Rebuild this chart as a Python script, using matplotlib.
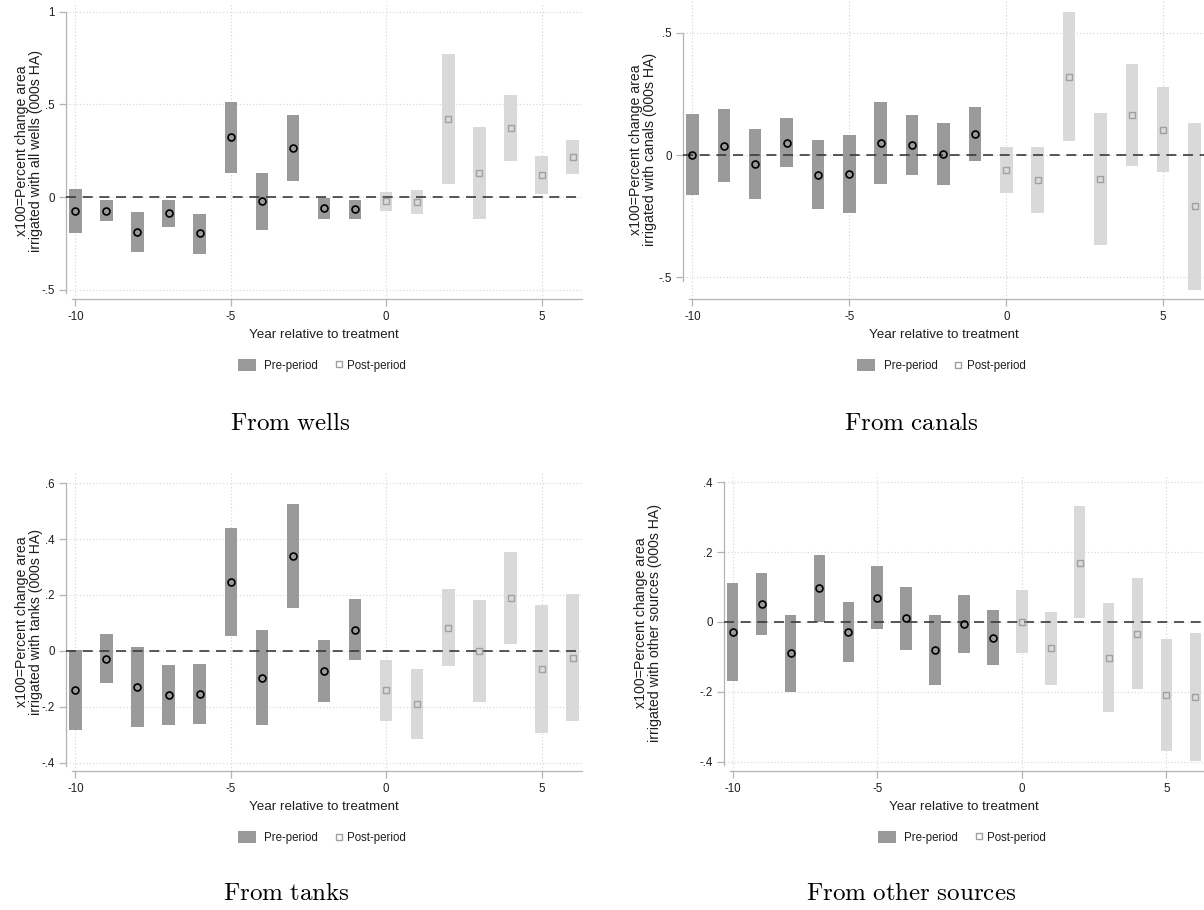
import numpy as np
import matplotlib
matplotlib.use("Agg")
import matplotlib.pyplot as plt
from matplotlib.axes import Axes
from matplotlib.patches import Patch, Rectangle
from matplotlib.lines import Line2D
from matplotlib.legend_handler import HandlerPatch

plt.rcParams['font.family'] = ['Liberation Sans', 'DejaVu Sans']
plt.rcParams['mathtext.fontset'] = 'cm'

W, H = 1204, 910

years = [-10, -9, -8, -7, -6, -5, -4, -3, -2, -1, 0, 1, 2, 3, 4, 5, 6]

# point estimates and 95% CI bounds
wells_coef = [-0.075, -0.073, -0.189, -0.087, -0.196, 0.323, -0.023, 0.267, -0.061, -0.066,
              -0.023, -0.025, 0.421, 0.130, 0.373, 0.118, 0.217]
wells_lo = [-0.196, -0.130, -0.299, -0.164, -0.307, 0.132, -0.176, 0.089, -0.118, -0.118,
            -0.075, -0.089, 0.070, -0.118, 0.196, 0.014, 0.125]
wells_hi = [0.045, -0.014, -0.080, -0.014, -0.089, 0.512, 0.130, 0.442, -0.003, -0.014,
            0.025, 0.037, 0.774, 0.378, 0.551, 0.221, 0.310]

canals_coef = [0.001, 0.038, -0.036, 0.050, -0.080, -0.078, 0.050, 0.042, 0.003, 0.086,
               -0.062, -0.102, 0.318, -0.100, 0.163, 0.104, -0.209]
canals_lo = [-0.163, -0.112, -0.179, -0.051, -0.220, -0.237, -0.117, -0.081, -0.123, -0.024,
             -0.156, -0.235, 0.057, -0.369, -0.046, -0.069, -0.550]
canals_hi = [0.166, 0.186, 0.105, 0.150, 0.061, 0.080, 0.218, 0.164, 0.129, 0.197,
             0.034, 0.031, 0.582, 0.171, 0.372, 0.278, 0.131]

tanks_coef = [-0.139, -0.029, -0.130, -0.158, -0.153, 0.245, -0.095, 0.338, -0.073, 0.076,
              -0.140, -0.190, 0.083, 0.000, 0.188, -0.065, -0.025]
tanks_lo = [-0.281, -0.114, -0.271, -0.264, -0.260, 0.052, -0.265, 0.153, -0.184, -0.032,
            -0.250, -0.316, -0.055, -0.182, 0.025, -0.293, -0.251]
tanks_hi = [0.004, 0.059, 0.013, -0.051, -0.048, 0.438, 0.075, 0.524, 0.040, 0.184,
            -0.031, -0.065, 0.221, 0.183, 0.352, 0.163, 0.203]

other_coef = [-0.029, 0.051, -0.090, 0.096, -0.029, 0.069, 0.010, -0.081, -0.007, -0.046,
              0.000, -0.075, 0.170, -0.102, -0.034, -0.209, -0.215]
other_lo = [-0.168, -0.037, -0.202, 0.000, -0.114, -0.021, -0.080, -0.181, -0.089, -0.124,
            -0.090, -0.180, 0.010, -0.257, -0.192, -0.370, -0.397]
other_hi = [0.111, 0.141, 0.021, 0.193, 0.056, 0.160, 0.101, 0.019, 0.078, 0.033,
            0.091, 0.029, 0.333, 0.053, 0.125, -0.049, -0.032]

wells_yticks = [-0.5, 0, 0.5, 1]
wells_ylabels = ['-.5', '0', '.5', '1']
canals_yticks = [-0.5, 0, 0.5]
canals_ylabels = ['-.5', '0', '.5']
tanks_yticks = [-0.4, -0.2, 0, 0.2, 0.4, 0.6]
tanks_ylabels = ['-.4', '-.2', '0', '.2', '.4', '.6']
other_yticks = [-0.4, -0.2, 0, 0.2, 0.4]
other_ylabels = ['-.4', '-.2', '0', '.2', '.4']

xticks = [-10, -5, 0, 5]
xticklabels = ['-10', '-5', '0', '5']

PRE_COLOR = '#9a9a9a'
POST_COLOR = '#d9d9d9'
POST_MARK = '#a0a0a0'
AXIS_COLOR = '#b4b4b4'
GRID_COLOR = '#d4d4d4'
TEXT_COLOR = '#1e1e1e'


def px_rect(left, top, right, bottom):
    return [left / W, 1 - bottom / H, (right - left) / W, (bottom - top) / H]


def wide_rect(legend, orig_handle, xdescent, ydescent, width, height, fontsize):
    # Stata draws the area key as a wide block set a little apart from its label
    return Rectangle((width - 17 - xdescent, -ydescent + height / 2 - 4.3), 13, 8.6)


def plot_panel(ax: Axes, coef, lo, hi, yticks, ylabels, ylim, ytitle, ylab_x, ax_width_px):
    x = np.array(years)
    coef, lo, hi = np.array(coef), np.array(lo), np.array(hi)
    pre = x < 0
    post = ~pre

    ax.set_xlim(-10.3, 6.3)
    ax.set_ylim(*ylim)

    ax.grid(True, linestyle=(0, (1, 2)), color=GRID_COLOR, lw=0.8)
    ax.set_axisbelow(True)

    ax.bar(x[pre], hi[pre] - lo[pre], bottom=lo[pre], width=0.4, color=PRE_COLOR, lw=0, zorder=2)
    ax.bar(x[post], hi[post] - lo[post], bottom=lo[post], width=0.4, color=POST_COLOR, lw=0, zorder=2)
    ax.axhline(0, color='#3a3a3a', lw=1.2, ls=(0, (6, 4)), zorder=3)
    ax.plot(x[pre], coef[pre], 'o', ms=5, mfc='none', mec='black', mew=1.2, zorder=4)
    ax.plot(x[post], coef[post], 's', ms=4.5, mfc='none', mec=POST_MARK, mew=1.0, zorder=4)

    ax.set_xticks(xticks)
    ax.set_xticklabels(xticklabels)
    ax.set_yticks(yticks)
    ax.set_yticklabels(ylabels)

    for s in ['top', 'right']:
        ax.spines[s].set_visible(False)
    for s in ['left', 'bottom']:
        ax.spines[s].set_color(AXIS_COLOR)
        ax.spines[s].set_linewidth(0.9)
    ax.spines['left'].set_bounds(yticks[0] - 0.012 * (ylim[1] - ylim[0]), yticks[-1])
    ax.spines['bottom'].set_bounds(-10.1, 6.3)

    ax.tick_params(direction='out', length=5, width=0.9, color=AXIS_COLOR,
                   labelsize=8.3, labelcolor=TEXT_COLOR, pad=3)
    ax.tick_params(axis='x', pad=4)

    ax.set_xlabel('Year relative to treatment', fontsize=9.6, color=TEXT_COLOR, labelpad=4)
    ax.set_ylabel(ytitle, fontsize=10.2, color=TEXT_COLOR, linespacing=1.0)
    ax.yaxis.set_label_coords(ylab_x, 0.5)

    handles = [Patch(facecolor=PRE_COLOR, edgecolor='none'),
               Line2D([], [], marker='s', ls='none', ms=4, mfc='none', mec=POST_MARK, mew=1.0)]
    ax.legend(handles, ['Pre-period', 'Post-period'], loc='center', ncol=2,
              bbox_to_anchor=(0.5 + 4.5 / ax_width_px, -0.225), frameon=False, fontsize=8.3,
              handlelength=0.9, handleheight=1.0, handletextpad=0.25, columnspacing=1.35,
              labelcolor=TEXT_COLOR, handler_map={Patch: HandlerPatch(patch_func=wide_rect)})


fig = plt.figure(figsize=(W / 100, H / 100), dpi=100)

ax1 = fig.add_axes(px_rect(66, 2, 582, 299))
plot_panel(ax1, wells_coef, wells_lo, wells_hi, wells_yticks, wells_ylabels, (-0.55, 1.052),
           'x100=Percent change area\nirrigated with all wells (000s HA)', -0.045, 516)

ax2 = fig.add_axes(px_rect(683, 0, 1204, 299))
plot_panel(ax2, canals_coef, canals_lo, canals_hi, canals_yticks, canals_ylabels, (-0.588, 0.633),
           'x100=Percent change area\nirrigated with canals (000s HA)', -0.05, 521)

ax3 = fig.add_axes(px_rect(66, 473, 582, 771))
plot_panel(ax3, tanks_coef, tanks_lo, tanks_hi, tanks_yticks, tanks_ylabels, (-0.429, 0.636),
           'x100=Percent change area\nirrigated with tanks (000s HA)', -0.045, 516)

ax4 = fig.add_axes(px_rect(724, 474, 1204, 771))
plot_panel(ax4, other_coef, other_lo, other_hi, other_yticks, other_ylabels, (-0.427, 0.424),
           'x100=Percent change area\nirrigated with other sources (000s HA)', -0.129, 480)

captions = [(290, 423, r'$\mathrm{From\ wells}$'), (911, 423, r'$\mathrm{From\ canals}$'),
            (286, 893, r'$\mathrm{From\ tanks}$'), (911, 893, r'$\mathrm{From\ other\ sources}$')]
for cx, cy, txt in captions:
    fig.text(cx / W, 1 - cy / H, txt, ha='center', va='center', fontsize=18, color='black')

fig.savefig('out.png', dpi=100, facecolor='white')
